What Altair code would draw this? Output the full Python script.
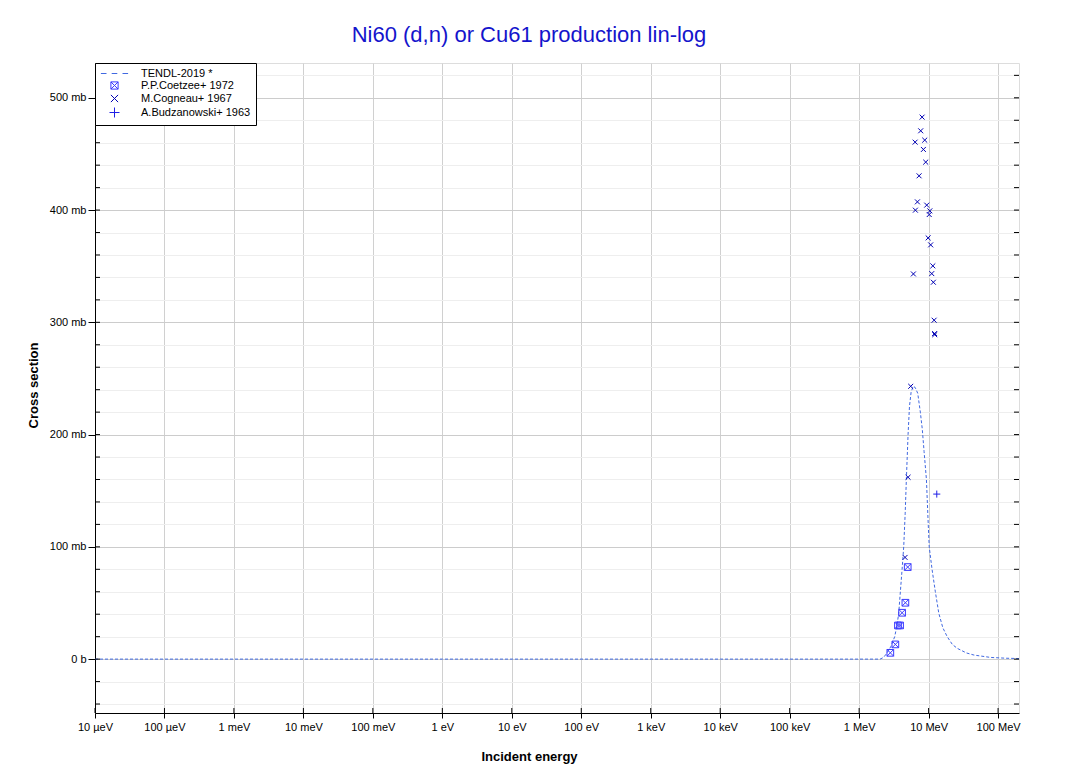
import altair as alt
import pandas as pd

# ---------------- data ----------------
tendl_E = [1e-11, 1e-6, 1e-2, 1.0, 2.0, 2.25, 2.52, 2.85, 3.25, 3.5, 3.71, 3.92, 4.15,
           4.38, 4.6, 4.78, 4.92, 5.06, 5.3, 5.6, 6.0, 6.4, 6.97, 7.6, 8.1, 8.6, 9.3,
           9.8, 10.2, 11.2, 12.5, 14.0, 16.0, 18.5, 22.0, 26.0, 35.0, 45.0, 78.0, 130.0, 200.0]
tendl_xs = [0, 0, 0, 0, 0, 1.5, 5.6, 11, 20, 30, 40.7, 60, 80,
            100, 130, 160, 180, 200, 225, 238, 243, 242, 236.8, 220, 205, 185, 160,
            125, 100, 80, 60, 41, 28, 20, 13, 9.5, 5.5, 3.6, 1.5, 0.8, 0.5]

coetzee_E = [2.81, 3.32, 3.62, 3.88, 4.15, 4.63, 5.00]
coetzee_xs = [5.6, 13.1, 30.0, 30.0, 41.3, 50.2, 82.0]

cogneau_E = [4.58, 5.06, 5.52, 6.04, 6.39, 6.45, 6.90, 7.29, 7.69, 8.06, 8.41, 8.79,
             9.08, 9.39, 9.84, 10.2, 10.4, 10.7, 11.1, 11.5, 11.7, 12.0, 12.2, 12.25]
cogneau_xs = [90.6, 162, 243, 343.1, 460.5, 399.9, 407.3, 430.5, 470.6, 482.8, 454, 462.3,
              442.7, 404.4, 375.2, 396, 399.3, 369, 343.4, 350.3, 335.7, 301.9, 290, 289]

budz_E = [13.1]
budz_xs = [147]

series_names = ["TENDL-2019 *", "P.P.Coetzee+ 1972", "M.Cogneau+ 1967", "A.Budzanowski+ 1963"]
series_colors = ["#4169e1", "#3a3aff", "#0000b4", "#2020e6"]

x_tick_values = [1e-11, 1e-10, 1e-9, 1e-8, 1e-7, 1e-6, 1e-5, 1e-4, 1e-3, 1e-2, 1e-1, 1.0, 10.0, 100.0]
x_tick_labels = ["10 µeV", "100 µeV", "1 meV", "10 meV", "100 meV", "1 eV", "10 eV",
                 "100 eV", "1 keV", "10 keV", "100 keV", "1 MeV", "10 MeV", "100 MeV"]
y_major_values = [0, 100, 200, 300, 400, 500]
y_major_labels = ["0 b", "100 mb", "200 mb", "300 mb", "400 mb", "500 mb"]
y_all_ticks = list(range(-40, 521, 20))

# ---------------- build ----------------
W, H = 924, 650
FONT = "Liberation Sans"

shape_paths = [
    "M-3.4,0L-2.0,0M-0.7,0L0.7,0M2.0,0L3.4,0",
    "M-0.9,-0.9L0.9,-0.9L0.9,0.9L-0.9,0.9Z M-0.9,-0.9L0.9,0.9 M-0.9,0.9L0.9,-0.9",
    "M-0.9,-0.9L0.9,0.9M-0.9,0.9L0.9,-0.9",
    "M-1.25,0L1.25,0M0,-1.25L0,1.25",
]

tendl_df = pd.DataFrame({"E": tendl_E, "xs": tendl_xs})
pts = pd.concat([
    pd.DataFrame({"E": coetzee_E, "xs": coetzee_xs, "series": series_names[1]}),
    pd.DataFrame({"E": cogneau_E, "xs": cogneau_xs, "series": series_names[2]}),
    pd.DataFrame({"E": budz_E, "xs": budz_xs, "series": series_names[3]}),
])

x_label_expr = "[" + ",".join("'%s'" % s for s in x_tick_labels) + "][round(log(datum.value)/LN10)+11]"
y_label_expr = " : ".join(
    "datum.value === %d ? '%s'" % (v, l) for v, l in zip(y_major_values, y_major_labels)
) + " : ''"

x_scale = alt.Scale(type="log", domain=[1e-11, 200], nice=False)
y_scale = alt.Scale(domain=[-48, 531], nice=False, zero=False)

x_enc = alt.X("E:Q", scale=x_scale, title="Incident energy",
              axis=alt.Axis(values=x_tick_values, labelExpr=x_label_expr, grid=True,
                            gridColor="#d0d0d0", tickSize=5, tickColor="black",
                            domainColor="black", labelPadding=3, labelFontSize=11,
                            labelFont=FONT, labelColor="black", labelFlush=False,
                            labelOverlap=False,
                            titleFont=FONT, titleFontSize=13, titleFontWeight="bold",
                            titleX=434, titleY=43, titleBaseline="middle", titleAlign="center"))
y_enc = alt.Y("xs:Q", scale=y_scale, title="Cross section",
              axis=alt.Axis(values=y_all_ticks, labelExpr=y_label_expr, grid=True,
                            gridColor={"condition": {"test": "datum.value % 100 === 0", "value": "#cccccc"}, "value": "#eeeeee"},
                            tickSize={"condition": {"test": "datum.value % 100 === 0", "value": 7}, "value": 0},
                            tickColor="black", domainColor="black", labelPadding=2,
                            labelOverlap=False, labelFlush=False,
                            labelFontSize=11, labelFont=FONT, labelColor="black",
                            titleFont=FONT, titleFontSize=13, titleFontWeight="bold",
                            titleX=-62, titleY=322, titleAngle=270,
                            titleBaseline="middle", titleAlign="center"))

legend_def = alt.Legend(title=None, orient="top-left", offset=0,
                        strokeColor="black", fillColor="white", padding=5,
                        labelFont=FONT, labelFontSize=11, labelColor="black",
                        symbolSize=64, symbolStrokeWidth=1, rowPadding=0,
                        labelOffset=21, symbolOffset=9)
color_enc = alt.Color("series:N", scale=alt.Scale(domain=series_names, range=series_colors),
                      legend=legend_def)
shape_enc = alt.Shape("series:N", scale=alt.Scale(domain=series_names, range=shape_paths),
                      legend=legend_def)

line = alt.Chart(tendl_df).mark_line(color="#4169e1", strokeDash=[3, 2], strokeWidth=1,
                                     clip=True).encode(x=x_enc, y=y_enc)

def pts_layer(name, size):
    return alt.Chart(pts).transform_filter(alt.datum.series == name).mark_point(
        filled=False, strokeWidth=1, size=size, opacity=1, clip=True
    ).encode(x=x_enc, y=y_enc, color=color_enc, shape=shape_enc)

p1 = pts_layer(series_names[1], 55)
p2 = pts_layer(series_names[2], 30)
p3 = pts_layer(series_names[3], 32)

# small inner tick marks on the frame (same fields/axes as the main layers)
minor_df = pd.DataFrame({"xs": y_all_ticks})
left_ticks = alt.Chart(minor_df).mark_rule(color="black", strokeWidth=1).encode(
    y=y_enc, x=alt.value(0), x2=alt.value(5))
right_ticks = alt.Chart(minor_df).mark_rule(color="black", strokeWidth=1).encode(
    y=y_enc, x=alt.value(W - 5), x2=alt.value(W))
dec_df = pd.DataFrame({"E": x_tick_values})
bottom_ticks = alt.Chart(dec_df).mark_rule(color="black", strokeWidth=1).encode(
    x=x_enc, y=alt.value(H - 5), y2=alt.value(H))

chart = alt.layer(line, p1, p2, p3, left_ticks, right_ticks, bottom_ticks).properties(
    width=W, height=H,
    title=alt.TitleParams("Ni60 (d,n) or Cu61 production lin-log", anchor="middle", dx=-28,
                          fontSize=22, font=FONT, fontWeight="normal", color="#1414cc",
                          offset=-1, baseline="alphabetic"),
    autosize=alt.AutoSizeParams(type="none"),
    padding={"left": 87, "top": 55, "right": 40, "bottom": 54},
).configure_view(stroke="black", strokeWidth=1.5).configure_axis(
    labelOverlap=False
).configure(background="white")

chart.save("out.html", embed_options={"renderer": "svg", "actions": False})
